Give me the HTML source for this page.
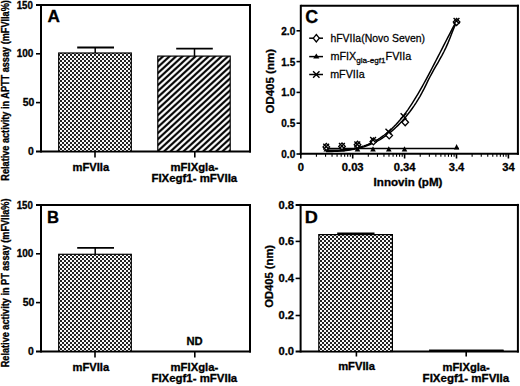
<!DOCTYPE html>
<html><head><meta charset="utf-8"><style>
html,body{margin:0;padding:0;background:#fff;}
svg{display:block;font-family:"Liberation Sans", sans-serif;}
</style></head><body>
<svg width="520" height="386" viewBox="0 0 520 386">
<defs>
<pattern id="chk" patternUnits="userSpaceOnUse" width="4" height="4" x="0" y="0">
<rect width="4" height="4" fill="#f8f8f8"/><rect width="2" height="2" fill="#222"/><rect x="2" y="2" width="2" height="2" fill="#222"/>
</pattern>
<pattern id="str" patternUnits="userSpaceOnUse" width="13" height="12" x="0" y="2.8">
<rect width="13" height="12" fill="#fff"/>
<path d="M-26.0 18 L0.0 -6 M-19.5 18 L6.5 -6 M-13.0 18 L13.0 -6 M-6.5 18 L19.5 -6 M0.0 18 L26.0 -6 M6.5 18 L32.5 -6 M13.0 18 L39.0 -6" stroke="#000" stroke-width="2.1"/>
</pattern>
</defs>
<rect width="520" height="386" fill="#fff"/>
<line x1="36" y1="5" x2="251" y2="5" stroke="#000" stroke-width="2"/>
<line x1="250" y1="4" x2="250" y2="152.4" stroke="#000" stroke-width="2"/>
<line x1="36" y1="151.4" x2="251" y2="151.4" stroke="#000" stroke-width="2"/>
<line x1="41" y1="4" x2="41" y2="152.4" stroke="#000" stroke-width="2"/>
<line x1="36" y1="53.8" x2="41" y2="53.8" stroke="#000" stroke-width="1.6"/>
<line x1="36" y1="102.6" x2="41" y2="102.6" stroke="#000" stroke-width="1.6"/>
<text transform="translate(32.9,8.5) scale(0.97,1)" font-size="10" font-weight="bold" text-anchor="end" stroke="#000" stroke-width="0.3" >150</text>
<text transform="translate(33.4,57.3)" font-size="10" font-weight="bold" text-anchor="end" stroke="#000" stroke-width="0.3" >100</text>
<text transform="translate(34.4,106.1) scale(1.04,1)" font-size="10" font-weight="bold" text-anchor="end" stroke="#000" stroke-width="0.3" >50</text>
<text transform="translate(33.8,154.9) scale(1.04,1)" font-size="10" font-weight="bold" text-anchor="end" stroke="#000" stroke-width="0.3" >0</text>
<text transform="translate(47.6,22.2)" font-size="17.2" font-weight="bold" text-anchor="start" stroke="#000" stroke-width="0.3" >A</text>
<rect x="58.7" y="53.0" width="72.60000000000001" height="98.4" fill="url(#chk)" stroke="#000" stroke-width="1.2"/>
<line x1="95.2" y1="53.0" x2="95.2" y2="47.5" stroke="#000" stroke-width="1.5"/>
<line x1="77.2" y1="47.5" x2="114" y2="47.5" stroke="#000" stroke-width="1.8"/>
<rect x="157.8" y="56.1" width="72.39999999999998" height="95.30000000000001" fill="url(#str)" stroke="#000" stroke-width="1.2"/>
<line x1="194.5" y1="56.1" x2="194.5" y2="48.6" stroke="#000" stroke-width="1.5"/>
<line x1="176.2" y1="48.6" x2="212.8" y2="48.6" stroke="#000" stroke-width="1.8"/>
<line x1="95" y1="151.4" x2="95" y2="157.5" stroke="#000" stroke-width="1.6"/>
<line x1="194.8" y1="151.4" x2="194.8" y2="157.5" stroke="#000" stroke-width="1.6"/>
<text transform="translate(90.8,170.6) scale(1.12,1)" font-size="10" font-weight="bold" text-anchor="middle" stroke="#000" stroke-width="0.3" >mFVIIa</text>
<text transform="translate(194.4,170.8) scale(1.13,1)" font-size="10" font-weight="bold" text-anchor="middle" stroke="#000" stroke-width="0.3" >mFIXgla-</text>
<text transform="translate(194.3,182.3) scale(1.145,1)" font-size="10" font-weight="bold" text-anchor="middle" stroke="#000" stroke-width="0.3" >FIXegf1- mFVIIa</text>
<text transform="translate(9.1,90.4) scale(1.1,1) rotate(-90)" font-size="9.15" font-weight="bold" text-anchor="middle" stroke="#000" stroke-width="0.3" >Relative activity in APTT assay (mFVIIa%)</text>
<line x1="36" y1="205" x2="251" y2="205" stroke="#000" stroke-width="2"/>
<line x1="250" y1="204" x2="250" y2="352.4" stroke="#000" stroke-width="2"/>
<line x1="36" y1="351.4" x2="251" y2="351.4" stroke="#000" stroke-width="2"/>
<line x1="41" y1="204" x2="41" y2="352.4" stroke="#000" stroke-width="2"/>
<line x1="36" y1="253.8" x2="41" y2="253.8" stroke="#000" stroke-width="1.6"/>
<line x1="36" y1="302.6" x2="41" y2="302.6" stroke="#000" stroke-width="1.6"/>
<text transform="translate(32.9,208.5) scale(0.97,1)" font-size="10" font-weight="bold" text-anchor="end" stroke="#000" stroke-width="0.3" >150</text>
<text transform="translate(33.4,257.3)" font-size="10" font-weight="bold" text-anchor="end" stroke="#000" stroke-width="0.3" >100</text>
<text transform="translate(34.4,306.1) scale(1.04,1)" font-size="10" font-weight="bold" text-anchor="end" stroke="#000" stroke-width="0.3" >50</text>
<text transform="translate(33.8,354.9) scale(1.04,1)" font-size="10" font-weight="bold" text-anchor="end" stroke="#000" stroke-width="0.3" >0</text>
<text transform="translate(46.9,222.7) scale(0.97,1)" font-size="17.2" font-weight="bold" text-anchor="start" stroke="#000" stroke-width="0.3" >B</text>
<rect x="58.7" y="254.3" width="72.60000000000001" height="97.09999999999997" fill="url(#chk)" stroke="#000" stroke-width="1.2"/>
<line x1="95.2" y1="254.3" x2="95.2" y2="247.9" stroke="#000" stroke-width="1.5"/>
<line x1="77.2" y1="247.9" x2="114" y2="247.9" stroke="#000" stroke-width="1.8"/>
<text transform="translate(194.5,345.2) scale(1.12,1)" font-size="10" font-weight="bold" text-anchor="middle" stroke="#000" stroke-width="0.3" >ND</text>
<line x1="95" y1="351.4" x2="95" y2="357.5" stroke="#000" stroke-width="1.6"/>
<line x1="194.8" y1="351.4" x2="194.8" y2="357.5" stroke="#000" stroke-width="1.6"/>
<text transform="translate(90.8,370.6) scale(1.12,1)" font-size="10" font-weight="bold" text-anchor="middle" stroke="#000" stroke-width="0.3" >mFVIIa</text>
<text transform="translate(194.4,370.8) scale(1.13,1)" font-size="10" font-weight="bold" text-anchor="middle" stroke="#000" stroke-width="0.3" >mFIXgla-</text>
<text transform="translate(194.3,382.3) scale(1.145,1)" font-size="10" font-weight="bold" text-anchor="middle" stroke="#000" stroke-width="0.3" >FIXegf1- mFVIIa</text>
<text transform="translate(9.1,282.9) scale(1.1,1) rotate(-90)" font-size="9.15" font-weight="bold" text-anchor="middle" stroke="#000" stroke-width="0.3" >Relative activity in PT assay (mFVIIa%)</text>
<line x1="300.8" y1="4.8" x2="300.8" y2="154.8" stroke="#000" stroke-width="2"/>
<line x1="300.8" y1="5.8" x2="518.9" y2="5.8" stroke="#000" stroke-width="2"/>
<line x1="517.9" y1="4.8" x2="517.9" y2="154.8" stroke="#000" stroke-width="2"/>
<line x1="299.8" y1="153.8" x2="518.9" y2="153.8" stroke="#000" stroke-width="2"/>
<line x1="296.5" y1="30.8" x2="300.8" y2="30.8" stroke="#000" stroke-width="1.6"/>
<text transform="translate(295.2,34.8)" font-size="10" font-weight="bold" text-anchor="end" stroke="#000" stroke-width="0.3" >2.0</text>
<line x1="296.5" y1="61.6" x2="300.8" y2="61.6" stroke="#000" stroke-width="1.6"/>
<text transform="translate(295.2,65.6)" font-size="10" font-weight="bold" text-anchor="end" stroke="#000" stroke-width="0.3" >1.5</text>
<line x1="296.5" y1="92.4" x2="300.8" y2="92.4" stroke="#000" stroke-width="1.6"/>
<text transform="translate(295.2,96.4)" font-size="10" font-weight="bold" text-anchor="end" stroke="#000" stroke-width="0.3" >1.0</text>
<line x1="296.5" y1="123.2" x2="300.8" y2="123.2" stroke="#000" stroke-width="1.6"/>
<text transform="translate(295.2,127.2)" font-size="10" font-weight="bold" text-anchor="end" stroke="#000" stroke-width="0.3" >0.5</text>
<line x1="296.5" y1="154" x2="300.8" y2="154" stroke="#000" stroke-width="1.6"/>
<text transform="translate(295.2,158.0)" font-size="10" font-weight="bold" text-anchor="end" stroke="#000" stroke-width="0.3" >0.0</text>
<line x1="300.8" y1="153.8" x2="300.8" y2="158.5" stroke="#000" stroke-width="1.6"/>
<line x1="316.42345677496064" y1="153.8" x2="316.42345677496064" y2="156.8" stroke="#000" stroke-width="1.1"/>
<line x1="325.5625931199505" y1="153.8" x2="325.5625931199505" y2="156.8" stroke="#000" stroke-width="1.1"/>
<line x1="332.04691354992127" y1="153.8" x2="332.04691354992127" y2="156.8" stroke="#000" stroke-width="1.1"/>
<line x1="337.07654322503936" y1="153.8" x2="337.07654322503936" y2="156.8" stroke="#000" stroke-width="1.1"/>
<line x1="341.1860498949111" y1="153.8" x2="341.1860498949111" y2="156.8" stroke="#000" stroke-width="1.1"/>
<line x1="344.66058827673993" y1="153.8" x2="344.66058827673993" y2="156.8" stroke="#000" stroke-width="1.1"/>
<line x1="347.6703703248819" y1="153.8" x2="347.6703703248819" y2="156.8" stroke="#000" stroke-width="1.1"/>
<line x1="350.325186239901" y1="153.8" x2="350.325186239901" y2="156.8" stroke="#000" stroke-width="1.1"/>
<line x1="352.7" y1="153.8" x2="352.7" y2="158.5" stroke="#000" stroke-width="1.6"/>
<line x1="368.3234567749606" y1="153.8" x2="368.3234567749606" y2="156.8" stroke="#000" stroke-width="1.1"/>
<line x1="377.4625931199505" y1="153.8" x2="377.4625931199505" y2="156.8" stroke="#000" stroke-width="1.1"/>
<line x1="383.94691354992125" y1="153.8" x2="383.94691354992125" y2="156.8" stroke="#000" stroke-width="1.1"/>
<line x1="388.97654322503934" y1="153.8" x2="388.97654322503934" y2="156.8" stroke="#000" stroke-width="1.1"/>
<line x1="393.08604989491107" y1="153.8" x2="393.08604989491107" y2="156.8" stroke="#000" stroke-width="1.1"/>
<line x1="396.5605882767399" y1="153.8" x2="396.5605882767399" y2="156.8" stroke="#000" stroke-width="1.1"/>
<line x1="399.5703703248819" y1="153.8" x2="399.5703703248819" y2="156.8" stroke="#000" stroke-width="1.1"/>
<line x1="402.22518623990095" y1="153.8" x2="402.22518623990095" y2="156.8" stroke="#000" stroke-width="1.1"/>
<line x1="404.6" y1="153.8" x2="404.6" y2="158.5" stroke="#000" stroke-width="1.6"/>
<line x1="420.22345677496065" y1="153.8" x2="420.22345677496065" y2="156.8" stroke="#000" stroke-width="1.1"/>
<line x1="429.3625931199505" y1="153.8" x2="429.3625931199505" y2="156.8" stroke="#000" stroke-width="1.1"/>
<line x1="435.8469135499213" y1="153.8" x2="435.8469135499213" y2="156.8" stroke="#000" stroke-width="1.1"/>
<line x1="440.8765432250394" y1="153.8" x2="440.8765432250394" y2="156.8" stroke="#000" stroke-width="1.1"/>
<line x1="444.9860498949111" y1="153.8" x2="444.9860498949111" y2="156.8" stroke="#000" stroke-width="1.1"/>
<line x1="448.46058827673994" y1="153.8" x2="448.46058827673994" y2="156.8" stroke="#000" stroke-width="1.1"/>
<line x1="451.4703703248819" y1="153.8" x2="451.4703703248819" y2="156.8" stroke="#000" stroke-width="1.1"/>
<line x1="454.125186239901" y1="153.8" x2="454.125186239901" y2="156.8" stroke="#000" stroke-width="1.1"/>
<line x1="456.5" y1="153.8" x2="456.5" y2="158.5" stroke="#000" stroke-width="1.6"/>
<line x1="472.12345677496063" y1="153.8" x2="472.12345677496063" y2="156.8" stroke="#000" stroke-width="1.1"/>
<line x1="481.26259311995045" y1="153.8" x2="481.26259311995045" y2="156.8" stroke="#000" stroke-width="1.1"/>
<line x1="487.74691354992126" y1="153.8" x2="487.74691354992126" y2="156.8" stroke="#000" stroke-width="1.1"/>
<line x1="492.7765432250394" y1="153.8" x2="492.7765432250394" y2="156.8" stroke="#000" stroke-width="1.1"/>
<line x1="496.8860498949111" y1="153.8" x2="496.8860498949111" y2="156.8" stroke="#000" stroke-width="1.1"/>
<line x1="500.3605882767399" y1="153.8" x2="500.3605882767399" y2="156.8" stroke="#000" stroke-width="1.1"/>
<line x1="503.3703703248819" y1="153.8" x2="503.3703703248819" y2="156.8" stroke="#000" stroke-width="1.1"/>
<line x1="506.02518623990096" y1="153.8" x2="506.02518623990096" y2="156.8" stroke="#000" stroke-width="1.1"/>
<line x1="508.4" y1="153.8" x2="508.4" y2="158.5" stroke="#000" stroke-width="1.6"/>
<text transform="translate(300.8,170.8) scale(1.12,1)" font-size="10" font-weight="bold" text-anchor="middle" stroke="#000" stroke-width="0.3" >0</text>
<text transform="translate(352.7,170.8) scale(1.12,1)" font-size="10" font-weight="bold" text-anchor="middle" stroke="#000" stroke-width="0.3" >0.03</text>
<text transform="translate(404.6,170.8) scale(1.12,1)" font-size="10" font-weight="bold" text-anchor="middle" stroke="#000" stroke-width="0.3" >0.34</text>
<text transform="translate(456.5,170.8) scale(1.12,1)" font-size="10" font-weight="bold" text-anchor="middle" stroke="#000" stroke-width="0.3" >3.4</text>
<text transform="translate(508.4,170.8) scale(1.12,1)" font-size="10" font-weight="bold" text-anchor="middle" stroke="#000" stroke-width="0.3" >34</text>
<text transform="translate(408,185.7) scale(1.16,1)" font-size="10" font-weight="bold" text-anchor="middle" stroke="#000" stroke-width="0.3" >Innovin (pM)</text>
<text transform="translate(305.3,22.6)" font-size="17.8" font-weight="bold" text-anchor="start" stroke="#000" stroke-width="0.3" >C</text>
<text transform="translate(273.6,81.3) rotate(-90)" font-size="11.5" font-weight="bold" text-anchor="middle" stroke="#000" stroke-width="0.3" >OD405 (nm)</text>
<line x1="309.2" y1="38.2" x2="323" y2="38.2" stroke="#000" stroke-width="1.5"/>
<line x1="309.2" y1="56.6" x2="323" y2="56.6" stroke="#000" stroke-width="1.5"/>
<line x1="309.2" y1="74.5" x2="323" y2="74.5" stroke="#000" stroke-width="1.5"/>
<path d="M316.3 34.5 L319.3 38.2 L316.3 41.9 L313.3 38.2 Z" fill="#fff" stroke="#000" stroke-width="1.3"/>
<path d="M316.3 53.4 L319.40000000000003 58.4 L313.2 58.4 Z" fill="#000"/>
<path d="M313.1 71.2 L319.5 77.8 M319.5 71.2 L313.1 77.8" stroke="#000" stroke-width="1.4"/>
<text transform="translate(330.4,41.9) scale(0.995,1)" font-size="10.5" font-weight="normal" text-anchor="start" stroke="#000" stroke-width="0.25" >hFVIIa(Novo Seven)</text>
<text transform="translate(330.4,59.7) scale(1.03,1)" font-size="10.5" font-weight="normal" text-anchor="start" stroke="#000" stroke-width="0.25" >mFIX<tspan font-size="7.9" dy="2.8">gla-egf1</tspan><tspan dy="-2.8">FVIIa</tspan></text>
<text transform="translate(330.2,77.7) scale(1.02,1)" font-size="10.5" font-weight="normal" text-anchor="start" stroke="#000" stroke-width="0.25" >mFVIIa</text>
<line x1="325.5" y1="148.5" x2="459.0" y2="148.5" stroke="#000" stroke-width="1.5"/>
<path d="M326.3 146.3 L329.1 151.6 L323.5 151.6 Z" fill="#000"/>
<path d="M342.0 146.3 L344.8 151.6 L339.2 151.6 Z" fill="#000"/>
<path d="M357.5 146.3 L360.3 151.6 L354.7 151.6 Z" fill="#000"/>
<path d="M373.0 146.3 L375.8 151.6 L370.2 151.6 Z" fill="#000"/>
<path d="M388.8 146.3 L391.6 151.6 L386.0 151.6 Z" fill="#000"/>
<path d="M404.5 146.3 L407.3 151.6 L401.7 151.6 Z" fill="#000"/>
<path d="M456.6 144.0 L459.3 149.4 L453.9 149.4 Z" fill="#000"/>
<path d="M326.0 150.28 L328.0 150.31 L330.0 150.33 L332.0 150.33 L334.0 150.32 L336.0 150.28 L338.0 150.22 L340.0 150.13 L342.0 150.02 L344.0 149.86 L346.0 149.68 L348.0 149.45 L350.0 149.18 L352.0 148.87 L354.0 148.51 L356.0 148.09 L358.0 147.63 L360.0 147.10 L362.0 146.52 L364.0 145.87 L366.0 145.16 L368.0 144.37 L370.0 143.52 L372.0 142.59 L374.0 141.58 L376.0 140.49 L378.0 139.32 L380.0 138.06 L382.0 136.71 L384.0 135.26 L386.0 133.72 L388.0 132.08 L390.0 130.34 L392.0 128.50 L394.0 126.54 L396.0 124.48 L398.0 122.30 L400.0 120.01 L402.0 117.59 L404.0 115.05 L406.0 112.39 L408.0 109.60 L410.0 106.67 L412.0 103.63 L414.0 100.47 L416.0 97.20 L418.0 93.84 L420.0 90.39 L422.0 86.85 L424.0 83.24 L426.0 79.57 L428.0 75.84 L430.0 72.06 L432.0 68.24 L434.0 64.39 L436.0 60.51 L438.0 56.62 L440.0 52.72 L442.0 48.81 L444.0 44.91 L446.0 41.02 L448.0 37.14 L450.0 33.29 L452.0 29.47 L454.0 25.68 L456.0 21.93 L456.5 21.01" fill="none" stroke="#000" stroke-width="1.5"/>
<path d="M326.0 151.59 L328.0 151.55 L330.0 151.50 L332.0 151.44 L334.0 151.36 L336.0 151.27 L338.0 151.16 L340.0 151.03 L342.0 150.87 L344.0 150.68 L346.0 150.46 L348.0 150.21 L350.0 149.93 L352.0 149.60 L354.0 149.24 L356.0 148.83 L358.0 148.37 L360.0 147.87 L362.0 147.31 L364.0 146.70 L366.0 146.03 L368.0 145.30 L370.0 144.51 L372.0 143.66 L374.0 142.73 L376.0 141.74 L378.0 140.67 L380.0 139.53 L382.0 138.31 L384.0 137.00 L386.0 135.62 L388.0 134.14 L390.0 132.58 L392.0 130.92 L394.0 129.17 L396.0 127.33 L398.0 125.38 L400.0 123.33 L402.0 121.17 L404.0 118.91 L406.0 116.53 L408.0 114.04 L410.0 111.44 L412.0 108.71 L414.0 105.86 L416.0 102.86 L418.0 99.68 L420.0 96.31 L422.0 92.72 L424.0 88.89 L426.0 84.82 L428.0 80.68 L430.0 76.76 L432.0 73.05 L434.0 69.48 L436.0 65.99 L438.0 62.52 L440.0 58.99 L442.0 55.34 L444.0 51.48 L446.0 47.36 L448.0 42.89 L450.0 38.01 L452.0 32.82 L454.0 27.79 L456.0 23.42 L456.8 21.96" fill="none" stroke="#000" stroke-width="1.5"/>
<path d="M326.3 143.4 L329.6 146.9 L326.3 150.4 L323.0 146.9 Z" fill="#fff" stroke="#000" stroke-width="1.3"/>
<path d="M323.3 143.7 L329.09999999999997 149.5 M329.09999999999997 143.7 L323.3 149.5" stroke="#000" stroke-width="1.4"/>
<path d="M342.0 142.9 L345.3 146.4 L342.0 149.9 L338.7 146.4 Z" fill="#fff" stroke="#000" stroke-width="1.3"/>
<path d="M339.0 143.1 L344.79999999999995 148.9 M344.79999999999995 143.1 L339.0 148.9" stroke="#000" stroke-width="1.4"/>
<path d="M357.5 141.3 L360.8 144.8 L357.5 148.3 L354.2 144.8 Z" fill="#fff" stroke="#000" stroke-width="1.3"/>
<path d="M354.40000000000003 141.4 L360.2 147.20000000000002 M360.2 141.4 L354.40000000000003 147.20000000000002" stroke="#000" stroke-width="1.4"/>
<path d="M373.4 137.9 L376.7 141.4 L373.4 144.9 L370.09999999999997 141.4 Z" fill="#fff" stroke="#000" stroke-width="1.3"/>
<path d="M370.20000000000005 136.9 L376.0 142.70000000000002 M376.0 136.9 L370.20000000000005 142.70000000000002" stroke="#000" stroke-width="1.4"/>
<path d="M389.2 131.9 L392.5 135.4 L389.2 138.9 L385.9 135.4 Z" fill="#fff" stroke="#000" stroke-width="1.3"/>
<path d="M385.5 128.7 L391.29999999999995 134.5 M391.29999999999995 128.7 L385.5 134.5" stroke="#000" stroke-width="1.4"/>
<path d="M405.2 118.8 L408.5 122.3 L405.2 125.8 L401.9 122.3 Z" fill="#fff" stroke="#000" stroke-width="1.3"/>
<path d="M400.6 113.3 L406.4 119.10000000000001 M406.4 113.3 L400.6 119.10000000000001" stroke="#000" stroke-width="1.4"/>
<path d="M456.6 18.5 L459.90000000000003 22.0 L456.6 25.5 L453.3 22.0 Z" fill="#fff" stroke="#000" stroke-width="1.3"/>
<path d="M453.6 17.900000000000002 L459.4 23.7 M459.4 17.900000000000002 L453.6 23.7" stroke="#000" stroke-width="1.4"/>
<line x1="300.6" y1="203.9" x2="300.6" y2="352.5" stroke="#000" stroke-width="2"/>
<line x1="295.6" y1="204.9" x2="518.9" y2="204.9" stroke="#000" stroke-width="2"/>
<line x1="517.9" y1="203.9" x2="517.9" y2="352.5" stroke="#000" stroke-width="2"/>
<line x1="295.6" y1="351.5" x2="518.9" y2="351.5" stroke="#000" stroke-width="2"/>
<text transform="translate(294.1,208.70000000000002) scale(1.09,1)" font-size="10.3" font-weight="bold" text-anchor="end" stroke="#000" stroke-width="0.3" >0.8</text>
<line x1="295.6" y1="241.4" x2="300.6" y2="241.4" stroke="#000" stroke-width="1.6"/>
<text transform="translate(294.1,245.20000000000002) scale(1.09,1)" font-size="10.3" font-weight="bold" text-anchor="end" stroke="#000" stroke-width="0.3" >0.6</text>
<line x1="295.6" y1="278.4" x2="300.6" y2="278.4" stroke="#000" stroke-width="1.6"/>
<text transform="translate(294.1,282.2) scale(1.09,1)" font-size="10.3" font-weight="bold" text-anchor="end" stroke="#000" stroke-width="0.3" >0.4</text>
<line x1="295.6" y1="315.5" x2="300.6" y2="315.5" stroke="#000" stroke-width="1.6"/>
<text transform="translate(294.1,319.3) scale(1.09,1)" font-size="10.3" font-weight="bold" text-anchor="end" stroke="#000" stroke-width="0.3" >0.2</text>
<text transform="translate(294.1,355.3) scale(1.09,1)" font-size="10.3" font-weight="bold" text-anchor="end" stroke="#000" stroke-width="0.3" >0.0</text>
<text transform="translate(304.8,222.6) scale(1.05,1)" font-size="17.3" font-weight="bold" text-anchor="start" stroke="#000" stroke-width="0.3" >D</text>
<rect x="318.8" y="234.6" width="73.59999999999997" height="116.9" fill="url(#chk)" stroke="#000" stroke-width="1.2"/>
<line x1="337.2" y1="233.4" x2="374.5" y2="233.4" stroke="#000" stroke-width="1.8"/>
<rect x="429.3" y="349.9" width="74.19999999999999" height="1.6000000000000227" fill="#000" stroke="#000" stroke-width="0.6"/>
<line x1="356.4" y1="351.5" x2="356.4" y2="356.5" stroke="#000" stroke-width="1.6"/>
<line x1="466.2" y1="351.5" x2="466.2" y2="356.5" stroke="#000" stroke-width="1.6"/>
<text transform="translate(356.5,370.4) scale(1.12,1)" font-size="10" font-weight="bold" text-anchor="middle" stroke="#000" stroke-width="0.3" >mFVIIa</text>
<text transform="translate(466.2,370.6) scale(1.12,1)" font-size="10" font-weight="bold" text-anchor="middle" stroke="#000" stroke-width="0.3" >mFIXgla-</text>
<text transform="translate(465.9,382.2) scale(1.155,1)" font-size="10" font-weight="bold" text-anchor="middle" stroke="#000" stroke-width="0.3" >FIXegf1- mFVIIa</text>
<text transform="translate(273.0,276.3) rotate(-90)" font-size="11.2" font-weight="bold" text-anchor="middle" stroke="#000" stroke-width="0.3" >OD405 (nm)</text>
</svg>
</body></html>
